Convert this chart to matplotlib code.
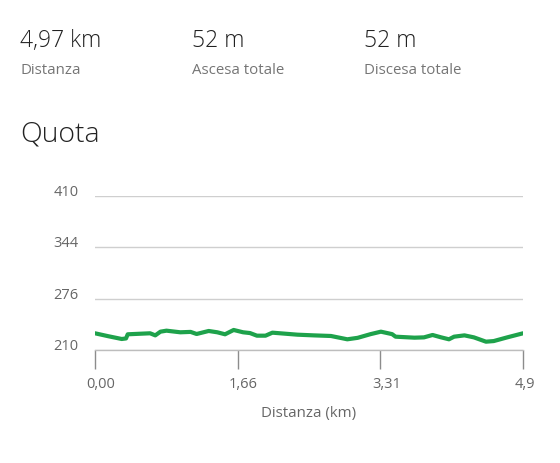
import numpy as np
import matplotlib
matplotlib.use("Agg")
import matplotlib.pyplot as plt
import matplotlib.transforms as mtransforms

plt.rcParams['font.family'] = ['Open Sans', 'DejaVu Sans']

# elevation profile (km, m)
dist_km = [0.00, 0.15, 0.31, 0.36, 0.38, 0.64, 0.70, 0.76, 0.83, 0.99, 1.11, 1.18,
           1.32, 1.42, 1.51, 1.61, 1.72, 1.80, 1.88, 1.98, 2.06, 2.15, 2.35, 2.54,
           2.74, 2.93, 3.05, 3.20, 3.32, 3.45, 3.49, 3.71, 3.82, 3.92, 4.02, 4.11,
           4.17, 4.29, 4.40, 4.54, 4.63, 4.79, 4.97]
elev_m = [231.7, 228.0, 224.3, 225.0, 230.4, 231.7, 229.0, 233.8, 235.1, 233.0, 233.5, 230.8,
          234.7, 233.0, 230.4, 236.0, 233.0, 232.0, 228.6, 228.6, 232.5, 231.7, 229.9, 229.0,
          228.2, 223.9, 225.8, 230.6, 233.8, 230.6, 227.3, 226.0, 226.4, 229.5, 226.4, 223.9,
          227.3, 229.0, 226.4, 220.8, 221.6, 226.5, 231.7]

total_km = 4.97
x_ticks = [0, total_km / 3, 2 * total_km / 3, total_km]
x_labels = ['0,00', '1,66', '3,31', '4,9']
y_ticks = [210, 210 + 200 / 3, 210 + 400 / 3, 410]
y_labels = ['210', '276', '344', '410']

stats = [('4,97 km', 'Distanza'), ('52 m', 'Ascesa totale'), ('52 m', 'Discesa totale')]

fig = plt.figure(figsize=(5.6, 4.63), dpi=100)
W, H = 560, 463

# header stats
for i, (val, lab) in enumerate(stats):
    x = (20 + i * 172) / W
    fig.text(x, 1 - 47 / H, val, fontsize=16.5, fontweight='light', color='#222222', va='baseline')
    fig.text(x, 1 - 73.5 / H, lab, fontsize=10.8, color='#757575', va='baseline')

fig.text(20 / W, 1 - 142 / H, 'Quota', fontsize=20.5, fontweight='light', color='#222222', va='baseline')

ax = fig.add_axes([95 / W, 1 - 350 / H, 428 / W, 154 / H])
ax.plot(dist_km, elev_m, color='#1ea24b', lw=3.0, solid_capstyle='round', solid_joinstyle='round')

ax.set_xlim(0, total_km)
ax.set_ylim(210, 410)
ax.set_xticks(x_ticks)
ax.set_xticklabels(x_labels)
ax.set_yticks(y_ticks)
ax.set_yticklabels(y_labels)

for s in ['top', 'right', 'left']:
    ax.spines[s].set_visible(False)
ax.spines['bottom'].set_color('#bdbdbd')
ax.spines['bottom'].set_linewidth(1.0)

ax.grid(axis='y', color='#cfcfcf', lw=1.0)
ax.set_axisbelow(True)
ax.tick_params(axis='y', length=0, pad=12, labelsize=10.5, labelcolor='#666666')
ax.tick_params(axis='x', length=13.5, width=1.0, color='#8c8c8c', pad=6,
               labelsize=10.5, labelcolor='#666666')
ax.set_xlabel('Distanza (km)', fontsize=10.8, color='#666666', labelpad=10)

# labels sit a little above their gridlines, x labels start just left of the tick
y_shift = mtransforms.ScaledTranslation(0, 5.5 / 100, fig.dpi_scale_trans)
for lbl in ax.get_yticklabels():
    lbl.set_transform(lbl.get_transform() + y_shift)
x_shift = mtransforms.ScaledTranslation(-8.5 / 100, 0, fig.dpi_scale_trans)
for lbl in ax.get_xticklabels():
    lbl.set_horizontalalignment('left')
    lbl.set_transform(lbl.get_transform() + x_shift)

fig.savefig('out.png', dpi=100, facecolor='white')
